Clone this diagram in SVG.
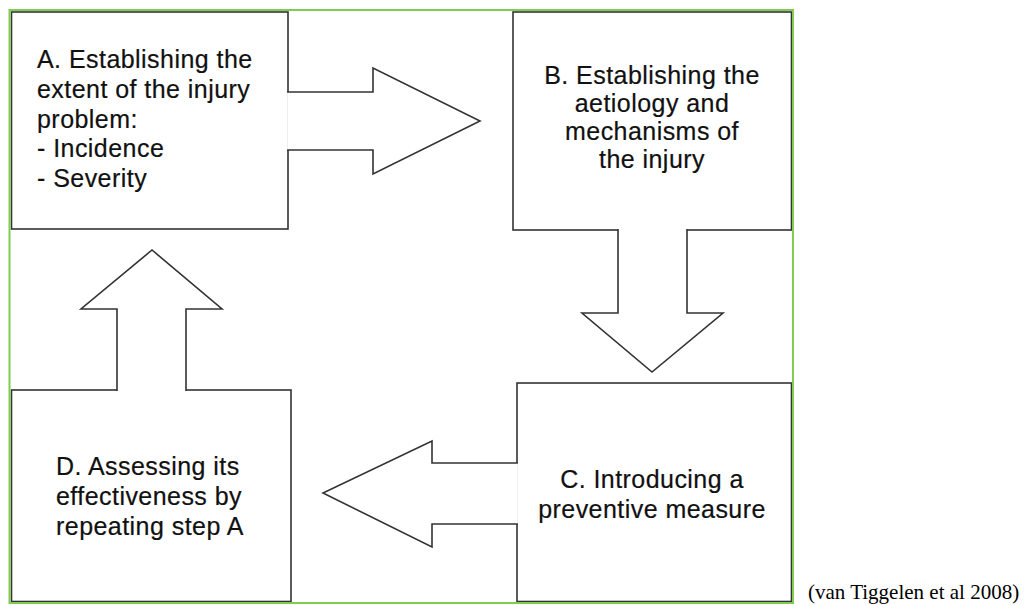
<svg xmlns="http://www.w3.org/2000/svg" width="1025" height="605" viewBox="0 0 1025 605">
<style>
.box{fill:#fff;stroke:#333;stroke-width:1.6}
.arr{fill:#fff;stroke:#333;stroke-width:1.6;stroke-linejoin:miter}
.t{font-family:"Liberation Sans",Arial,sans-serif;font-size:25px;letter-spacing:0.45px;fill:#111;stroke:#111;stroke-width:0.2}
.c{text-anchor:middle}
.cite{font-family:"Liberation Serif","Times New Roman",serif;font-size:21px;fill:#000}
</style>
<rect x="0" y="0" width="1025" height="605" fill="#fff"/>
<g id="nodeA">
<rect class="box" x="11.5" y="12" width="276.5" height="217"/>
<text class="t"><tspan x="37" y="68">A. Establishing the</tspan><tspan x="37" y="98">extent of the injury</tspan><tspan x="37" y="128">problem:</tspan><tspan x="37" y="157">- Incidence</tspan><tspan x="37" y="187">- Severity</tspan></text>
</g>
<g id="nodeB">
<rect class="box" x="513" y="12" width="278.5" height="218"/>
<text class="t c"><tspan x="652" y="84">B. Establishing the</tspan><tspan x="652" y="112">aetiology and</tspan><tspan x="652" y="140">mechanisms of</tspan><tspan x="652" y="168">the injury</tspan></text>
</g>
<g id="nodeC">
<rect class="box" x="517" y="383" width="274.5" height="218.5"/>
<text class="t c"><tspan x="652" y="488">C. Introducing a</tspan><tspan x="652" y="518">preventive measure</tspan></text>
</g>
<g id="nodeD">
<rect class="box" x="11.5" y="390" width="279.5" height="211.5"/>
<text class="t"><tspan x="56" y="475">D. Assessing its</tspan><tspan x="56" y="505">effectiveness by</tspan><tspan x="56" y="535">repeating step A</tspan></text>
</g>
<g id="connectors">
<path class="arr" d="M287.1,92 H373 V68 L480,121 L373,174 V150 H287.1"/>
<path class="arr" d="M687,229.1 V313 H723 L652,372 L582,313 H618 V229.1"/>
<path class="arr" d="M517.9,463 H432 V441 L323,493 L432,547 V524 H517.9"/>
<path class="arr" d="M186,390.9 V309 H222 L152,250 L81,309 H117 V390.9"/>
</g>
<rect x="9.5" y="10" width="783.5" height="593" fill="none" stroke="#80cc50" stroke-width="2"/>
<text class="cite" x="808" y="599">(van Tiggelen et al 2008)</text>
</svg>
